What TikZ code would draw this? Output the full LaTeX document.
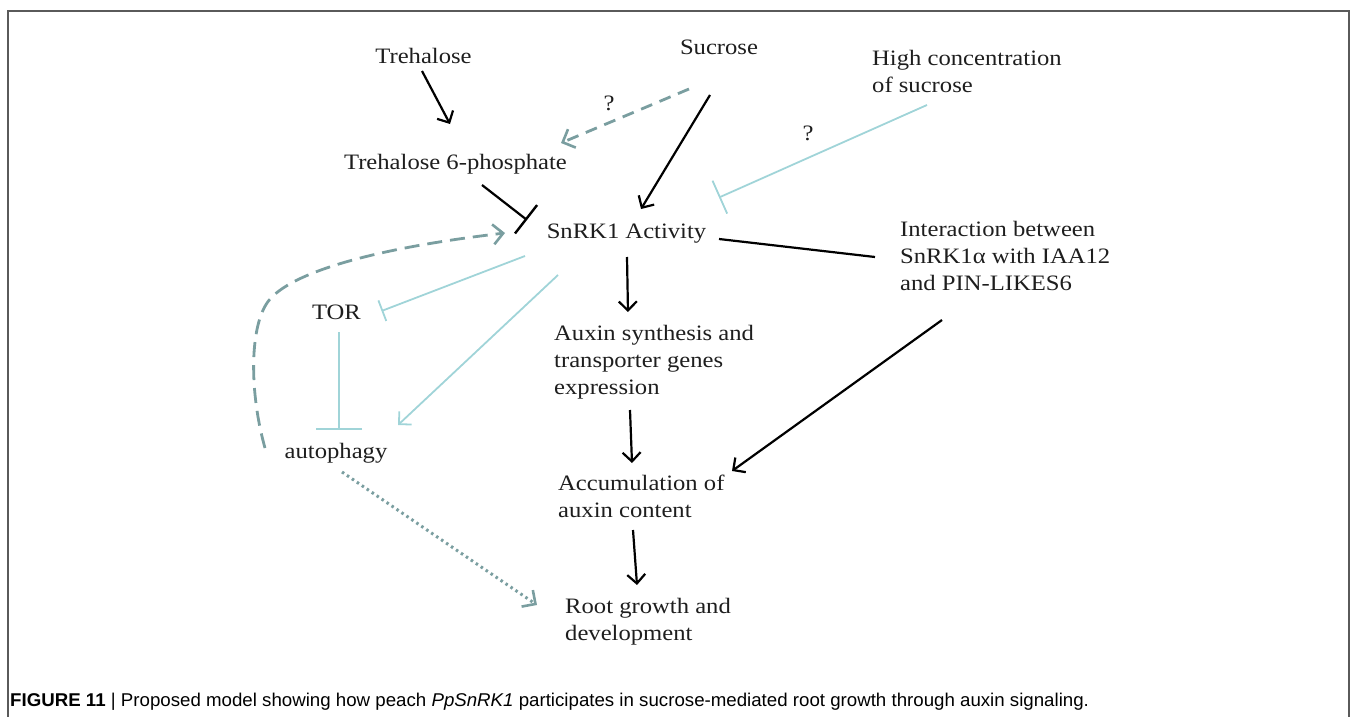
\documentclass[tikz,border=0pt]{standalone}
\usepackage{fontspec}
\setmainfont{Liberation Serif}[FakeStretch=1.12]
\newfontfamily\capfont{Liberation Sans}[FakeStretch=1.01]
\usetikzlibrary{arrows.meta}
\definecolor{lblue}{RGB}{160,212,216}
\definecolor{dgray}{RGB}{122,158,160}
\definecolor{txt}{RGB}{30,30,30}
\definecolor{frame}{RGB}{90,90,90}
\tikzset{
  lbl/.style={inner sep=0pt, text=txt, font=\fontsize{22}{27}\selectfont, align=left},
  blk/.style={line width=2.2pt, black},
  blkarr/.style={blk, -{Straight Barb[length=9pt,width=18pt,line width=2.2pt]}},
  blkbar/.style={blk, -{Bar[width=36pt,line width=2.4pt]}},
  lbarr/.style={line width=1.8pt, lblue, -{Straight Barb[length=9pt,width=18pt,line width=1.8pt]}},
  lbbar/.style={line width=1.8pt, lblue},
  dgarr/.style={line width=2.8pt, dgray, dash pattern=on 12pt off 8pt, -{Straight Barb[length=10pt,width=20pt,line width=2.6pt]}},
}
\begin{document}
\begin{tikzpicture}[x=1pt,y=-1pt]
\useasboundingbox (0,0) rectangle (1358,717);
\draw[frame, line width=2pt] (8,730) -- (8,11) -- (1349,11) -- (1349,730);

\node[lbl] (tre) at (423.5,56) {Trehalose};
\node[lbl] (suc) at (719,47) {Sucrose};
\node[lbl, anchor=west] (hc) at (872,71) {High concentration\\of sucrose};
\node[lbl] (t6p) at (455.5,164) {Trehalose 6-phosphate};
\node[lbl] (snrk) at (626.5,234) {SnRK1 Activity};
\node[lbl, anchor=west] (inter) at (900,256) {Interaction between\\SnRK1α with IAA12\\and PIN-LIKES6};
\node[lbl] (tor) at (336.5,312) {TOR};
\node[lbl] (auto) at (336,453) {autophagy};
\node[lbl, anchor=west] (aux) at (554,362) {Auxin synthesis and\\transporter genes\\expression};
\node[lbl, anchor=west] (acc) at (558,496.5) {Accumulation of\\auxin content};
\node[lbl, anchor=west] (root) at (565,621.5) {Root growth and\\development};
\node[lbl] (q1) at (609,103) {?};
\node[lbl] (q2) at (808,133) {?};

% black connectors
\draw[blkarr] ([shift={(-1.5,15)}]tre.center) -- ([shift={(-5.5,-40)}]t6p.center);
\draw[blkarr] ([shift={(-9,48)}]suc.center) -- ([shift={(14.5,-25)}]snrk.center);
\draw[blkbar] ([shift={(26.5,21)}]t6p.center) -- ([shift={(-99.5,-14)}]snrk.center);
\draw[blk] ([shift={(92.5,5)}]snrk.center) -- ([shift={(-25,1)}]inter.west);
\draw[blkarr] ([shift={(42,64)}]inter.west) -- ([shift={(174,-25.5)}]acc.west);
\draw[blkarr] ([shift={(0.5,23)}]snrk.center) -- ([shift={(74,-50)}]aux.west);
\draw[blkarr] ([shift={(76,48)}]aux.west) -- ([shift={(74,-33.5)}]acc.west);
\draw[blkarr] ([shift={(75,33.5)}]acc.west) -- ([shift={(72,-36.5)}]root.west);

% grey dashed / dotted
\draw[dgarr] ([shift={(-30,42)}]suc.center) -- ([shift={(105.5,-21)}]t6p.center);
\draw[dgarr, dash pattern=on 15pt off 8pt] ([shift={(-71,-5)}]auto.center) .. controls (250,395) and (249,330) .. (267,303) .. controls (285,276) and (360,250) .. ([shift={(-121.5,-1)}]snrk.center);
\draw[line width=3pt, dgray, dash pattern=on 2.5pt off 3.5pt, -{Straight Barb[length=10pt,width=20pt,line width=2.6pt]}] ([shift={(6,19)}]auto.center) -- ([shift={(-28,-16.5)}]root.west);

% light blue
\draw[lbbar, -{Bar[width=36pt,line width=1.8pt]}] ([shift={(55,34)}]hc.west) -- ([shift={(92.5,-36.5)}]snrk.center);
\draw[lbbar, -{Bar[width=22pt,line width=1.8pt]}] ([shift={(-101.5,22)}]snrk.center) -- ([shift={(45,-1)}]tor.center);
\draw[lbbar, -{Bar[width=46pt,line width=1.8pt]}] ([shift={(2.5,20)}]tor.center) -- ([shift={(3,-23)}]auto.center);
\draw[lbarr] ([shift={(-68.5,41)}]snrk.center) -- ([shift={(62,-28)}]auto.center);

\node[inner sep=0pt, anchor=west, text=black, font=\capfont\fontsize{18.5}{22}\selectfont] (cap) at (10,702)
  {\textbf{FIGURE 11} | Proposed model showing how peach \textit{PpSnRK1} participates in sucrose-mediated root growth through auxin signaling.};
\end{tikzpicture}
\end{document}
